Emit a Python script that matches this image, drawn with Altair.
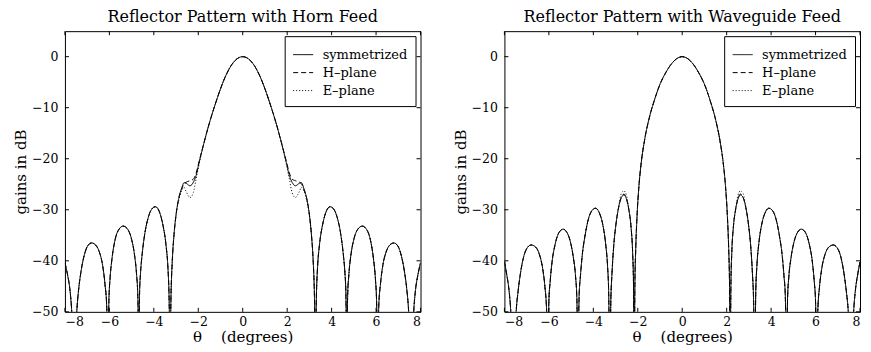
import altair as alt
import pandas as pd

SERIES = ["symmetrized", "H\u2013plane", "E\u2013plane"]
XTICKS = [-8, -6, -4, -2, 0, 2, 4, 6, 8]
YTICKS = [-50, -40, -30, -20, -10, 0]

# ---- Horn feed (left panel), half profile theta >= 0 (pattern is symmetric)
HORN_X = [0, 0.25, 0.5, 0.75, 1.0, 1.25, 1.5, 1.75, 1.95, 2.1, 2.22, 2.37, 2.55, 2.64, 2.75, 2.87, 3.0, 3.09, 3.17, 3.22, 3.27,
          3.32, 3.37, 3.45, 3.6, 3.75, 3.93, 4.1, 4.25, 4.4, 4.52, 4.6, 4.64, 4.68,
          4.72, 4.78, 4.88, 5.0, 5.18, 5.38, 5.58, 5.75, 5.88, 5.97, 6.02, 6.07,
          6.12, 6.2, 6.3, 6.45, 6.62, 6.8, 6.98, 7.13, 7.28, 7.38, 7.46, 7.58,
          7.7, 7.78, 7.88, 8.0]
HORN_SYM = [0, -0.4, -1.6, -3.6, -6.3, -9.5, -13.0, -17.0, -20.5, -23.3, -24.6, -25.3, -24.8, -24.7, -25.8, -27.6, -31.0, -34.8, -40.0, -45.5, -56,
            -46, -41, -37, -32.8, -30.4, -29.4, -29.9, -31.5, -34.5, -38.5, -42.5, -46, -56,
            -47, -42.5, -38.5, -35.8, -33.8, -33.2, -33.9, -36.0, -39.5, -43.5, -47.5, -58,
            -49, -44.5, -41, -38.3, -36.9, -36.5, -37.1, -38.9, -42.2, -45.5, -49.5, -62,
            -49.5, -45.5, -42.8, -40.4]
HORN_H_DIFF = {1.95: -20.3, 2.1: -22.8, 2.22: -24.0, 2.37: -24.3, 2.55: -24.6, 2.64: -24.9, 2.75: -26.0}
HORN_E_DIFF = {1.95: -20.8, 2.1: -24.0, 2.22: -26.6, 2.37: -27.6, 2.55: -26.4, 2.64: -25.6, 2.75: -26.3, 2.87: -28.0}

# ---- Waveguide feed (right panel), half profile theta >= 0
WG_X = [0, 0.25, 0.5, 0.75, 1.0, 1.25, 1.5, 1.7, 1.85, 1.95, 2.03, 2.09, 2.13, 2.16,
        2.19, 2.23, 2.3, 2.4, 2.5, 2.62, 2.74, 2.86, 2.98, 3.08, 3.16, 3.21, 3.26,
        3.31, 3.36, 3.45, 3.58, 3.73, 3.9, 4.07, 4.22, 4.37, 4.5, 4.58, 4.64, 4.69,
        4.74, 4.8, 4.9, 5.02, 5.18, 5.36, 5.55, 5.72, 5.85, 5.94, 6.0, 6.05,
        6.1, 6.18, 6.28, 6.43, 6.6, 6.8, 6.98, 7.14, 7.28, 7.38, 7.47, 7.6,
        7.72, 7.8, 7.9, 8.0]
WG_SYM = [0, -0.4, -1.5, -3.2, -5.4, -8.5, -12.3, -16.5, -21.0, -25.5, -31, -37.5, -45, -60,
          -45, -38.5, -33.5, -30, -28, -27.1, -27.6, -29.5, -32.8, -37, -42.5, -47.5, -60,
          -46, -41, -36.5, -32.8, -30.6, -29.7, -30.2, -31.8, -35, -39, -43, -47, -58,
          -47.5, -43, -39.3, -36.5, -34.5, -33.8, -34.5, -36.8, -40, -44, -48, -60,
          -50, -45, -41.5, -38.7, -37.3, -36.9, -37.5, -39.3, -42.5, -45.8, -49.8, -62,
          -49.5, -45.5, -42.6, -40.2]
WG_H_DIFF = {2.62: -26.9}
WG_E_DIFF = {2.5: -27.3, 2.62: -26.3, 2.74: -26.8}


def full_profile(xs, ys):
    pts = [(-x, y) for x, y in zip(xs, ys) if x > 0][::-1] + list(zip(xs, ys))
    return pts


def panel_frame(xs, sym, hdiff, ediff):
    rows = []
    for name, diff in [(SERIES[2], ediff), (SERIES[1], hdiff), (SERIES[0], {})]:
        ys = [diff.get(x, y) for x, y in zip(xs, sym)]
        for t, g in full_profile(xs, ys):
            rows.append({"theta": t, "gain": g, "series": name})
    return pd.DataFrame(rows)


FONT = "DejaVu Serif"
W, H = 356, 281
NB = "\u00a0"

X_ENC = alt.X("theta:Q", scale=alt.Scale(domain=[-8, 8], nice=False, zero=False),
              axis=alt.Axis(values=XTICKS, title="\u03b8" + NB * 4 + "(degrees)", ticks=False, domain=False,
                            grid=False, labelPadding=4, titlePadding=1, format="d"))
Y_ENC = alt.Y("gain:Q", scale=alt.Scale(domain=[-50, 5], nice=False, zero=False),
              axis=alt.Axis(values=YTICKS, title="gains in dB", ticks=False, domain=False, grid=False,
                            labelPadding=7, titlePadding=3, format="d"))


def panel(df, title):
    lines = alt.Chart(df).mark_line(clip=True, color="black", strokeWidth=1, interpolate="monotone").encode(
        x=X_ENC,
        y=Y_ENC,
        strokeDash=alt.StrokeDash(
            "series:N",
            scale=alt.Scale(domain=SERIES, range=[[1, 0], [5, 3], [1, 2]]),
            legend=alt.Legend(title=None, orient="top-right", offset=5, fillColor="white",
                              strokeColor="black", padding=8, symbolType="stroke", symbolSize=400,
                              symbolStrokeWidth=1, symbolStrokeColor="black", labelFont=FONT,
                              labelFontSize=13, labelColor="black", labelOffset=9, rowPadding=-2),
        ),
    )
    xt = pd.DataFrame({"theta": XTICKS})
    yt = pd.DataFrame({"gain": YTICKS})
    tb = alt.Chart(xt).mark_rule(color="black", strokeWidth=1).encode(x=X_ENC, y=alt.value(H), y2=alt.value(H - 4))
    tt = alt.Chart(xt).mark_rule(color="black", strokeWidth=1).encode(x=X_ENC, y=alt.value(0), y2=alt.value(4))
    tl = alt.Chart(yt).mark_rule(color="black", strokeWidth=1).encode(y=Y_ENC, x=alt.value(0), x2=alt.value(4))
    tr = alt.Chart(yt).mark_rule(color="black", strokeWidth=1).encode(y=Y_ENC, x=alt.value(W - 4), x2=alt.value(W))
    return alt.layer(lines, tb, tt, tl, tr).properties(
        width=W, height=H, title=alt.TitleParams(title, offset=6)
    )


left = panel(panel_frame(HORN_X, HORN_SYM, HORN_H_DIFF, HORN_E_DIFF), "Reflector Pattern with Horn Feed")
right = panel(panel_frame(WG_X, WG_SYM, WG_H_DIFF, WG_E_DIFF), "Reflector Pattern with Waveguide Feed")

chart = alt.hconcat(left, right, spacing=31).resolve_scale(strokeDash="independent").resolve_legend(
    strokeDash="independent"
).properties(
    padding={"left": 5, "right": 2, "top": 0, "bottom": 2}
).configure_view(stroke="black", strokeWidth=1).configure_axis(
    labelFont=FONT, titleFont=FONT, labelFontSize=12.5, titleFontSize=15, labelColor="black",
    titleColor="black", titleFontWeight="normal"
).configure_title(font=FONT, fontSize=16, fontWeight="normal", color="black")

chart.save("out.html", embed_options={"renderer": "svg", "actions": False})
